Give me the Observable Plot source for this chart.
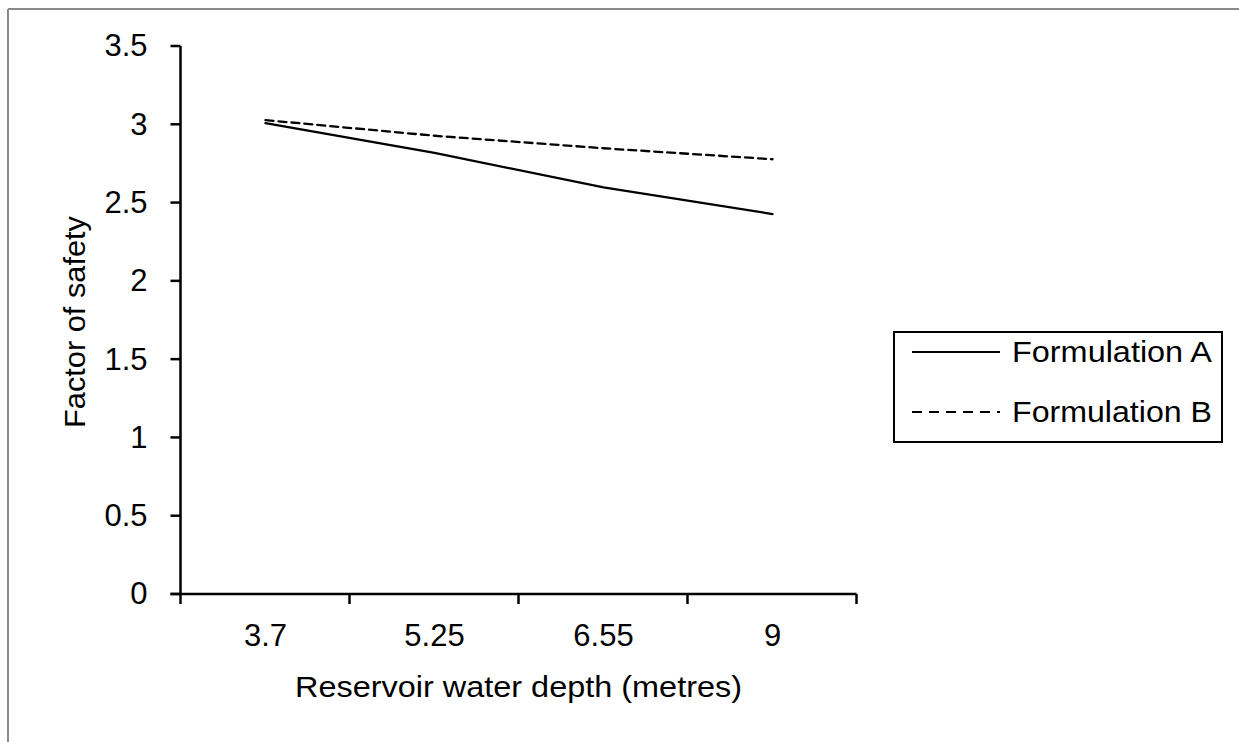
<!DOCTYPE html>
<html>
<head>
<meta charset="utf-8">
<script src="https://cdn.jsdelivr.net/npm/d3@7"></script>
<script src="https://cdn.jsdelivr.net/npm/@observablehq/plot@0.6"></script>
<style>
  html, body { margin: 0; padding: 0; background: #fff; }
  #chart { position: relative; width: 1239px; height: 742px; }
</style>
</head>
<body>
<div id="chart"></div>
<script>
const categories = ["3.7", "5.25", "6.55", "9"];
const formulationA = [3.01, 2.82, 2.60, 2.43];
const formulationB = [3.03, 2.93, 2.85, 2.78];
const yTicks = [0, 0.5, 1, 1.5, 2, 2.5, 3, 3.5];
const seriesNames = ["Formulation A", "Formulation B"];
const xTitle = "Reservoir water depth (metres)";
const yTitle = "Factor of safety";

const dataA = categories.map((c, i) => ({depth: c, fos: formulationA[i]}));
const dataB = categories.map((c, i) => ({depth: c, fos: formulationB[i]}));

const FONT = "'Liberation Sans', Arial, sans-serif";

const chart = Plot.plot({
  width: 1239,
  height: 742,
  marginLeft: 179,
  marginRight: 382,
  marginTop: 46,
  marginBottom: 148,
  style: {fontFamily: FONT, fontSize: "31px", background: "white", color: "black", overflow: "visible"},
  x: {type: "point", domain: categories, padding: 0.5, tickSize: 0, tickPadding: 29, label: null},
  y: {domain: [0, 3.5], ticks: yTicks, tickSize: 0, tickPadding: 32, label: null, tickFormat: d => String(d)},
  marks: [
    Plot.line(dataA, {x: "depth", y: "fos", stroke: "black", strokeWidth: 2.3}),
    Plot.line(dataB, {x: "depth", y: "fos", stroke: "black", strokeWidth: 2.3, strokeDasharray: "8,5"})
  ]
});

document.getElementById("chart").appendChild(chart);

const svg = d3.select(chart);
svg.selectAll("g[aria-label*='axis'] text")
  .style("font-size", "31px").style("font-family", FONT).attr("fill", "black");

const xs = chart.scale("x");
const ys = chart.scale("y");
const xPos = categories.map(c => xs.apply(c));
const step = xPos[1] - xPos[0];
const left = xPos[0] - step / 2;
const right = xPos[xPos.length - 1] + step / 2;
const y0 = ys.apply(0);
const yTop = ys.apply(3.5);

const g = svg.append("g").attr("stroke", "black").attr("stroke-width", 2.5).attr("fill", "none");
// axis lines
g.append("line").attr("x1", left).attr("x2", left).attr("y1", yTop).attr("y2", y0);
g.append("line").attr("x1", left - 10).attr("x2", right).attr("y1", y0).attr("y2", y0);
// y ticks
yTicks.forEach(v => {
  g.append("line").attr("x1", left - 10).attr("x2", left).attr("y1", ys.apply(v)).attr("y2", ys.apply(v));
});
// x boundary ticks
for (let i = 0; i <= categories.length; i++) {
  const bx = left + i * step;
  g.append("line").attr("x1", bx).attr("x2", bx).attr("y1", y0).attr("y2", y0 + 10);
}

// axis titles
svg.append("text")
  .attr("x", 295).attr("y", 697)
  .attr("text-anchor", "start")
  .style("font-family", FONT).style("font-size", "29px")
  .attr("textLength", 447).attr("lengthAdjust", "spacingAndGlyphs")
  .attr("fill", "black")
  .text(xTitle);
svg.append("text")
  .attr("transform", `translate(85,428) rotate(-90)`)
  .attr("text-anchor", "start")
  .style("font-family", FONT).style("font-size", "29px")
  .attr("textLength", 212).attr("lengthAdjust", "spacingAndGlyphs")
  .attr("fill", "black")
  .text(yTitle);

// legend
const lg = svg.append("g");
lg.append("rect").attr("x", 894).attr("y", 332).attr("width", 328).attr("height", 110)
  .attr("fill", "white").attr("stroke", "black").attr("stroke-width", 2);
const dashes = [null, "10,7"];
seriesNames.forEach((name, i) => {
  const ly = 352 + i * 60;
  lg.append("line").attr("x1", 912).attr("x2", 1000).attr("y1", ly).attr("y2", ly)
    .attr("stroke", "black").attr("stroke-width", 2).attr("stroke-dasharray", dashes[i]);
  lg.append("text").attr("x", 1012).attr("y", ly + 10)
    .attr("text-anchor", "start")
    .style("font-family", FONT).style("font-size", "29px")
    .attr("textLength", 200).attr("lengthAdjust", "spacingAndGlyphs")
    .attr("fill", "black").text(name);
});

// outer gray border (top and left)
const bg = svg.append("g").attr("stroke", "#8a8a8a").attr("stroke-width", 2);
bg.append("line").attr("x1", 8).attr("x2", 1239).attr("y1", 9).attr("y2", 9);
bg.append("line").attr("x1", 8).attr("x2", 8).attr("y1", 9).attr("y2", 742);
</script>
</body>
</html>
